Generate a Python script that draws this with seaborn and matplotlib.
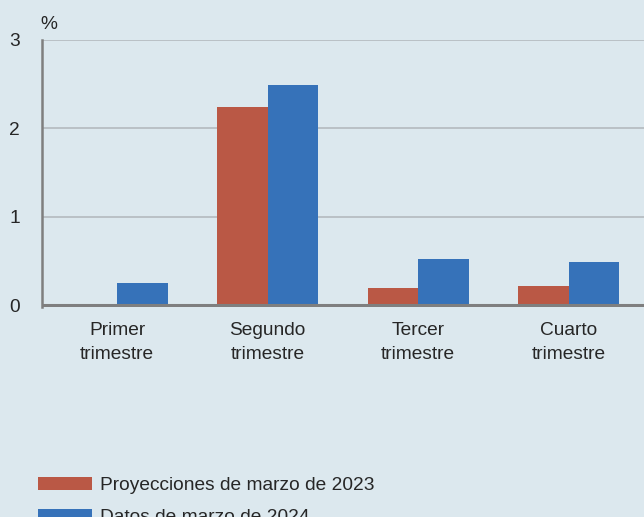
import matplotlib
matplotlib.use("Agg")
import matplotlib.pyplot as plt
import seaborn as sns
import pandas as pd

trimestres = ["Primer\ntrimestre", "Segundo\ntrimestre", "Tercer\ntrimestre", "Cuarto\ntrimestre"]
series = ["Proyecciones de marzo de 2023", "Datos de marzo de 2024"]
proyecciones_2023 = [-0.01, 2.24, 0.20, 0.215]
datos_2024 = [0.25, 2.49, 0.52, 0.49]
colores = ["#BA5845", "#3672B9"]
fondo = "#DCE8EE"

df = pd.DataFrame({
    "trimestre": trimestres * 2,
    "serie": [series[0]] * 4 + [series[1]] * 4,
    "valor": proyecciones_2023 + datos_2024,
})

sns.set_theme(style="white")
plt.rcParams["font.family"] = ["Liberation Sans", "DejaVu Sans"]
plt.rcParams["font.size"] = 13.8

fig = plt.figure(figsize=(6.44, 5.17), dpi=100, facecolor=fondo)
ax = fig.add_axes([42 / 644, (517 - 307) / 517, 1 - 42 / 644, (307 - 40) / 517])
ax.set_facecolor(fondo)

sns.barplot(data=df, x="trimestre", y="valor", hue="serie", order=trimestres,
            hue_order=series, palette=colores, saturation=1, width=0.67,
            linewidth=0, ax=ax, legend=True)

ax.set_xlim(-0.5, 3.5)
ax.set_ylim(-0.02, 3)
ax.set_yticks([0, 1, 2, 3])
ax.set_xlabel("")
ax.set_ylabel("")
for y in [1, 2, 3]:
    ax.axhline(y, color="#B0B6BA", lw=1.1, zorder=0)
ax.axhline(0, color="#7F7F7F", lw=2.2, zorder=5)

for s in ["top", "right", "bottom"]:
    ax.spines[s].set_visible(False)
ax.spines["left"].set_color("#7F7F7F")
ax.spines["left"].set_linewidth(1.8)

ax.tick_params(axis="y", direction="in", length=5, color="#7F7F7F", pad=16, labelsize=13.8)
ax.tick_params(axis="x", length=0, pad=11, labelsize=13.8)
for lab in ax.get_xticklabels():
    lab.set_linespacing(1.5)
ax.set_xticks([0.5, 1.5, 2.5], minor=True)
ax.tick_params(axis="x", which="minor", direction="in", length=7, width=1.2, color="#7F7F7F")

ax.text(-0.51, 3.08, "%", fontsize=13.8, ha="left", va="bottom")

ax.get_legend().remove()
handles, labels = ax.get_legend_handles_labels()
fig.legend(handles, labels, loc="upper left", bbox_to_anchor=(21 / 644, (517 - 460) / 517),
           frameon=False, fontsize=13.8, handlelength=2.8, handleheight=0.6,
           labelspacing=0.75, handletextpad=0.4)

fig.savefig("out.png", dpi=100, facecolor=fondo)
